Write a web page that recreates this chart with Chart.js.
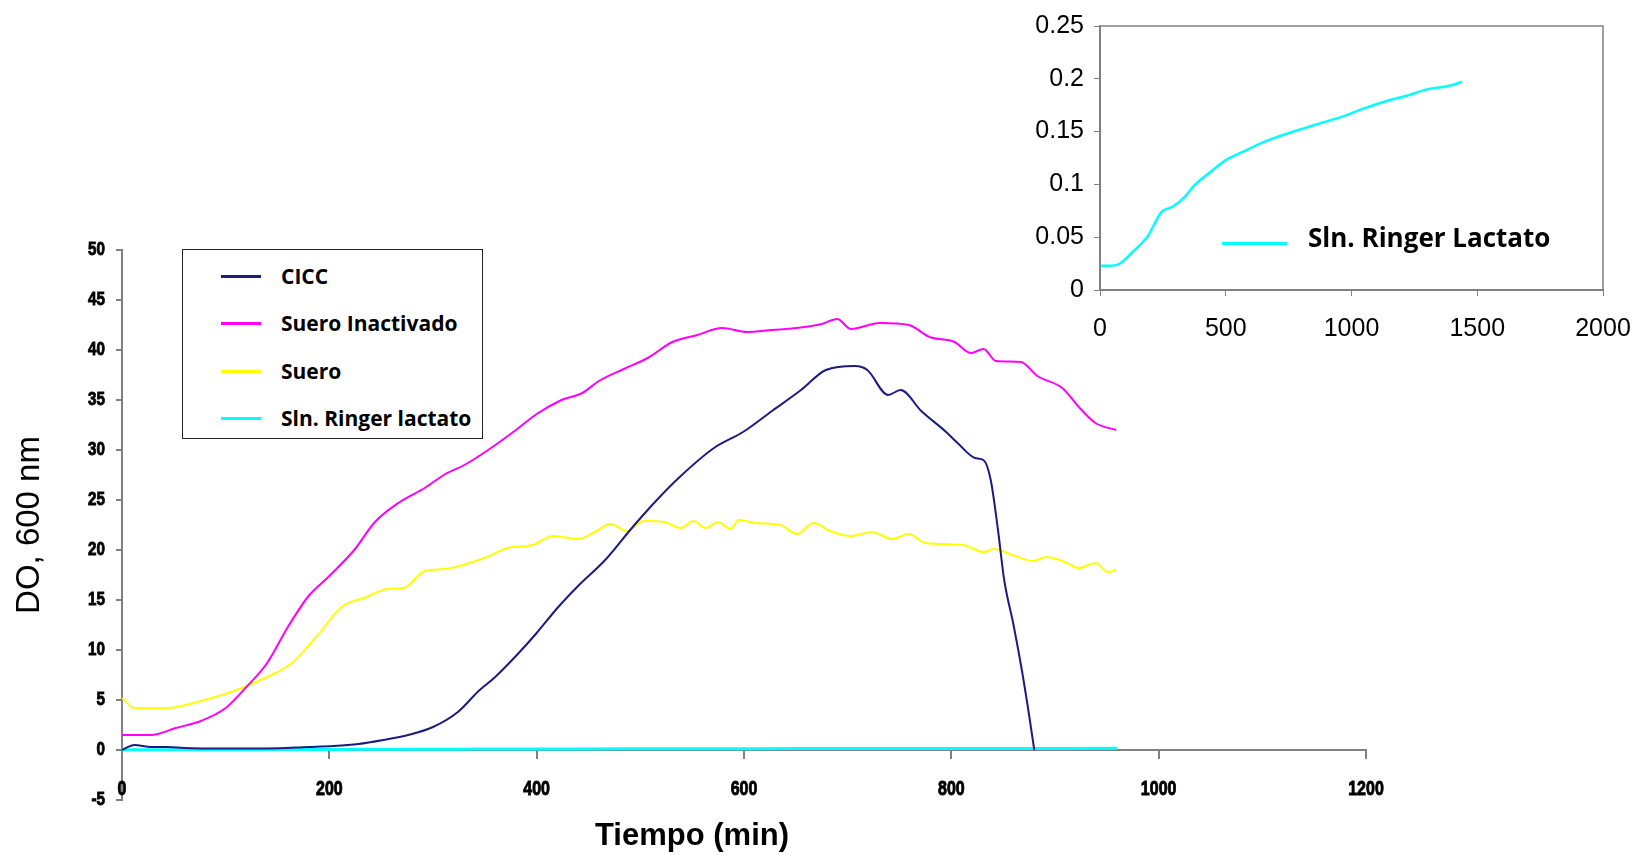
<!DOCTYPE html>
<html>
<head>
<meta charset="utf-8">
<script src="https://cdn.jsdelivr.net/npm/chart.js@4.4.1/dist/chart.umd.min.js"></script>
<style>
  body { margin: 0; background: #fff; }
  #wrap { position: relative; width: 1638px; height: 855px; overflow: hidden; }
  #main { position: absolute; left: 0; top: 0; }
  #inset { position: absolute; left: 1000px; top: 0; }
  #legend { position: absolute; left: 182px; top: 249px; width: 299px; height: 188px;
            border: 1px solid #222; background: #fff; }
  .item { position: absolute; left: 38px; height: 30px; display: flex; align-items: center;
          font: bold 21px 'Open Sans', Lato, sans-serif; color: #000; white-space: nowrap; }
  .item span.line { display: inline-block; width: 40px; height: 3px; margin-right: 20px; }
  #insetLegend { position: absolute; left: 1222px; top: 221px; height: 32px; display: flex; align-items: center;
                 font: bold 26px 'Open Sans', Lato, sans-serif; color: #000; white-space: nowrap; }
  #insetLegend span.line { display: inline-block; width: 65px; height: 3px; background: #00ffff;
                           margin-right: 21px; position: relative; top: 6px; }
  #xTitle { position: absolute; left: 492px; width: 400px; top: 817px; text-align: center;
            font: bold 31px 'Liberation Sans', Arial, sans-serif; color: #000; }
</style>
</head>
<body>
<div id="wrap">
  <canvas id="main" width="1638" height="855"></canvas>
  <canvas id="inset" width="638" height="345"></canvas>
  <div id="legend"></div>
  <div id="insetLegend"><span class="line"></span>Sln. Ringer Lactato</div>
  <div id="xTitle">Tiempo (min)</div>
</div>
<script>
// values (time in min, DO at 600 nm)
const ciccTime = [0, 12, 28, 44, 60, 100, 140, 180, 204, 228, 252, 276, 300, 324, 344, 360, 380, 400, 420, 439, 467, 491, 515, 539, 571, 599, 627, 655, 679, 707, 719, 739, 751, 771, 795, 807, 823, 831, 838, 845, 851, 860, 868, 875, 880];
const ciccDO = [0, 0.5, 0.3, 0.3, 0.2, 0.15, 0.15, 0.3, 0.4, 0.6, 1.0, 1.5, 2.3, 3.8, 5.9, 7.3, 9.4, 11.7, 14.2, 16.3, 19.1, 22.1, 24.9, 27.4, 30.2, 31.8, 33.9, 36.0, 38.0, 38.4, 38.0, 35.5, 36.0, 33.9, 31.8, 30.6, 29.2, 29.0, 27.0, 22.0, 17.0, 12.5, 8.0, 3.5, 0];

const inactTime = [0, 28, 52, 76, 100, 120, 140, 160, 180, 200, 224, 244, 268, 292, 312, 332, 356, 380, 400, 424, 444, 460, 484, 507, 531, 555, 579, 603, 627, 651, 675, 690, 703, 731, 759, 779, 803, 819, 831, 843, 867, 883, 907, 923, 939, 959];
const inactDO = [1.5, 1.5, 2.2, 2.9, 4.2, 6.3, 8.7, 12.3, 15.4, 17.4, 20.0, 22.8, 24.8, 26.2, 27.6, 28.6, 30.2, 32.0, 33.6, 35.0, 35.7, 36.9, 38.1, 39.2, 40.8, 41.5, 42.2, 41.8, 42.0, 42.2, 42.6, 43.1, 42.1, 42.7, 42.5, 41.3, 40.8, 39.7, 40.1, 38.9, 38.8, 37.4, 36.2, 34.3, 32.7, 32.0];

const sueroTime = [0, 12, 44, 76, 108, 140, 164, 188, 212, 236, 256, 272, 292, 312, 332, 352, 372, 396, 416, 440, 456, 471, 487, 503, 523, 539, 551, 563, 575, 587, 595, 611, 635, 651, 667, 683, 703, 723, 743, 759, 775, 811, 831, 841, 859, 879, 891, 907, 923, 939, 951, 959];
const sueroDO = [5.2, 4.2, 4.2, 4.9, 5.9, 7.3, 8.7, 11.4, 14.3, 15.3, 16.1, 16.2, 17.9, 18.1, 18.6, 19.3, 20.2, 20.5, 21.4, 21.1, 21.8, 22.6, 21.9, 22.9, 22.8, 22.2, 22.9, 22.2, 22.8, 22.1, 23.0, 22.7, 22.5, 21.6, 22.7, 21.9, 21.4, 21.8, 21.1, 21.6, 20.7, 20.5, 19.8, 20.1, 19.5, 18.9, 19.3, 18.9, 18.2, 18.7, 17.8, 18.0];

const ringerTime = [0, 40, 70, 90, 130, 160, 190, 215, 245, 290, 340, 375, 440, 500, 570, 650, 730, 810, 890, 960, 1050, 1140, 1220, 1300, 1380, 1440];
const ringerDO = [0.023, 0.023, 0.024, 0.027, 0.036, 0.043, 0.051, 0.062, 0.074, 0.079, 0.089, 0.099, 0.112, 0.123, 0.131, 0.140, 0.147, 0.153, 0.159, 0.164, 0.172, 0.179, 0.184, 0.190, 0.193, 0.197];

const mainMaxTime = 960;   // main run stops here, inset keeps going

const seriesNames = ['CICC', 'Suero Inactivado', 'Suero', 'Sln. Ringer lactato'];
const seriesColors = ['#1c1c80', '#ff00ff', '#ffff00', '#00ffff'];

function pts(xs, ys) {
    return xs.map((x, i) => ({ x: x, y: ys[i] }));
}

const arial = "'Liberation Sans', Arial, sans-serif";

const mainSets = [
    pts(ciccTime, ciccDO),
    pts(inactTime, inactDO),
    pts(sueroTime, sueroDO),
    pts(ringerTime, ringerDO).filter(p => p.x <= mainMaxTime)
];

// the original tick labels are a heavy, slightly squeezed bold face
function heavyLabel(ctx, text, x, y, align, size) {
    ctx.save();
    ctx.translate(x, y);
    ctx.scale(0.8, 1);
    ctx.font = 'bold ' + size + 'px ' + arial;
    ctx.textAlign = align;
    ctx.textBaseline = 'middle';
    ctx.fillStyle = '#000';
    ctx.strokeStyle = '#000';
    ctx.lineWidth = 0.9;
    ctx.fillText(text, 0, 0);
    ctx.strokeText(text, 0, 0);
    ctx.restore();
}

const squeezedTicks = {
    id: 'squeezedTicks',
    afterDraw(chart) {
        const ctx = chart.ctx;
        const xs = chart.scales.x0, ys = chart.scales.y;
        ys.ticks.forEach(t => {
            heavyLabel(ctx, String(t.value), ys.right - 17, ys.getPixelForValue(t.value), 'right', 19);
        });
        xs.ticks.forEach(t => {
            heavyLabel(ctx, String(t.value), xs.getPixelForValue(t.value), 789, 'center', 20);
        });
    }
};

new Chart(document.getElementById('main').getContext('2d'), {
    type: 'line',
    data: {
        datasets: mainSets.map((d, i) => ({
            label: seriesNames[i],
            data: d,
            borderColor: seriesColors[i],
            borderWidth: i === 3 ? 3 : 2,
            pointRadius: 0,
            fill: false,
            cubicInterpolationMode: 'monotone'
        }))
    },
    options: {
        responsive: false,
        animation: false,
        layout: { padding: { left: 0, right: 272, top: 250, bottom: 0 } },
        plugins: { legend: { display: false }, tooltip: { enabled: false } },
        scales: {
            x: {
                type: 'linear', min: 0, max: 1200, position: 'bottom',
                ticks: { display: false, stepSize: 200 },
                grid: { display: false, drawTicks: false },
                border: { display: false },
                afterFit: s => { s.height = 55; }
            },
            x0: {
                type: 'linear', min: 0, max: 1200, position: { y: 0 },
                ticks: { display: false, stepSize: 200 },
                grid: { drawOnChartArea: false, color: '#808080', tickLength: 8, lineWidth: 2 },
                border: { color: '#808080', width: 2 }
            },
            y: {
                min: -5, max: 50,
                ticks: { display: false, stepSize: 5 },
                grid: { drawOnChartArea: false, color: '#808080', tickLength: 6, lineWidth: 2 },
                border: { color: '#808080', width: 2 },
                title: { display: true, text: 'DO, 600 nm', color: '#000',
                         font: { family: arial, size: 33 }, padding: { top: 10, bottom: 0 } },
                afterFit: s => { s.width = 122; }
            }
        }
    },
    plugins: [squeezedTicks]
});

// legend box for the main chart
const legend = document.getElementById('legend');
const rowTops = [11, 58, 106, 153];
seriesNames.forEach((name, i) => {
    const row = document.createElement('div');
    row.className = 'item';
    row.style.top = rowTops[i] + 'px';
    row.innerHTML = '<span class="line" style="background:' + seriesColors[i] + '"></span>' + name;
    legend.appendChild(row);
});

// inset: Ringer lactato alone, its own scale
const frame = {
    id: 'frame',
    afterDraw(chart) {
        const a = chart.chartArea, ctx = chart.ctx;
        ctx.save();
        ctx.strokeStyle = '#808080';
        ctx.lineWidth = 1.5;
        ctx.strokeRect(a.left, a.top, a.right - a.left, a.bottom - a.top);
        ctx.restore();
    }
};

new Chart(document.getElementById('inset').getContext('2d'), {
    type: 'line',
    data: {
        datasets: [{
            label: 'Sln. Ringer Lactato',
            data: pts(ringerTime, ringerDO),
            borderColor: '#00ffff',
            borderWidth: 2.5,
            pointRadius: 0,
            fill: false,
            cubicInterpolationMode: 'monotone'
        }]
    },
    options: {
        responsive: false,
        animation: false,
        layout: { padding: { left: 0, right: 35, top: 26, bottom: 0 } },
        plugins: { legend: { display: false }, tooltip: { enabled: false } },
        scales: {
            x: {
                type: 'linear', min: 0, max: 2000,
                ticks: { stepSize: 500, padding: 18, color: '#000', callback: v => String(v),
                         font: { family: arial, size: 25 } },
                grid: { drawOnChartArea: false, color: '#808080', tickLength: 6 },
                border: { color: '#808080', width: 2 },
                afterFit: s => { s.height = 55; s.paddingLeft = 0; s.paddingRight = 0; }
            },
            y: {
                min: 0, max: 0.25,
                ticks: { stepSize: 0.05, padding: 10, color: '#000', callback: v => String(+v.toFixed(2)),
                         font: { family: arial, size: 25 } },
                grid: { drawOnChartArea: false, color: '#808080', tickLength: 6 },
                border: { color: '#808080', width: 2 },
                afterFit: s => { s.width = 100; }
            }
        }
    },
    plugins: [frame]
});
</script>
</body>
</html>
